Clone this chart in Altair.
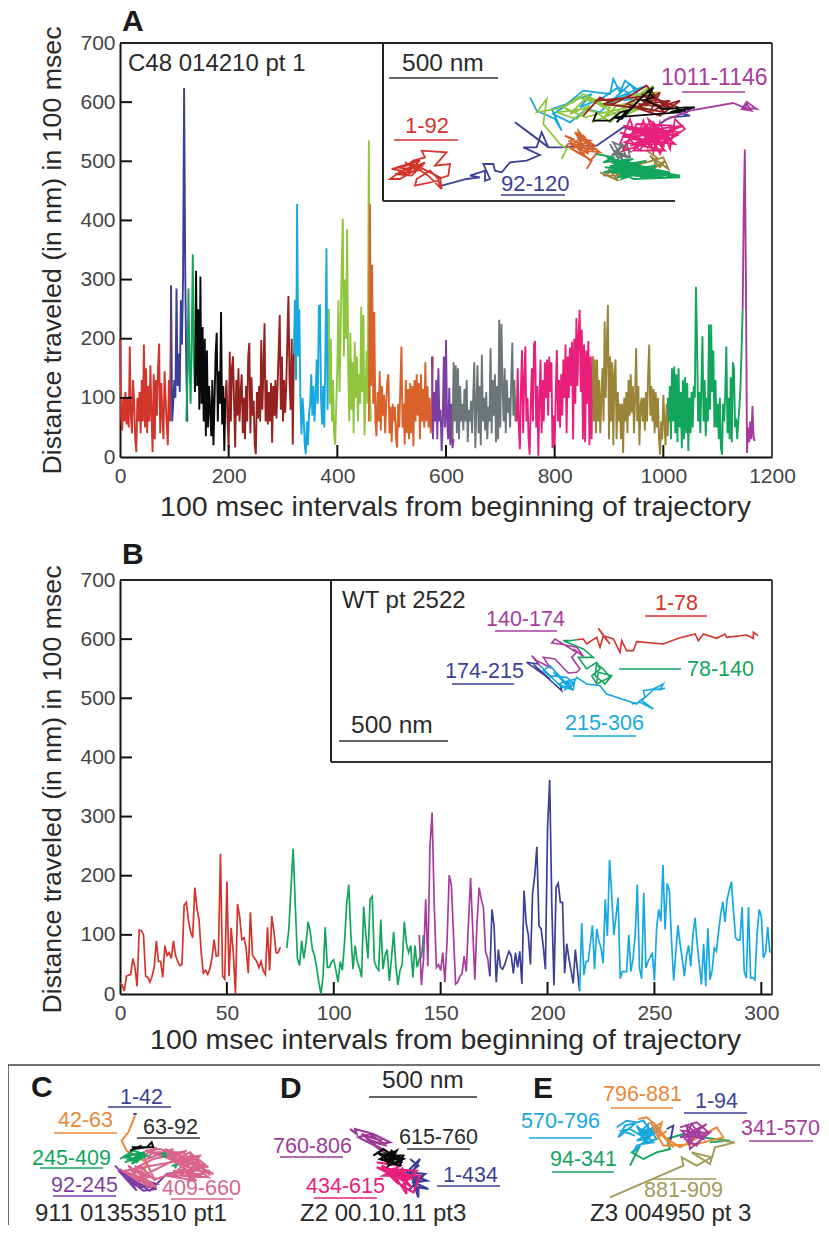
import altair as alt
import pandas as pd

FONT = "Liberation Sans"
INK = "#2a2a2a"
RED, NAVY, GREEN, BLACK, DARKRED = "#d2352b", "#3c3f98", "#12a55c", "#0a0a0a", "#96221f"
CYAN, LIME, ORANGE, PURPLE, GRAY = "#17a8e0", "#8fc63d", "#d8622a", "#7d3fa3", "#6c7578"
PINK, OLIVE, MAGENTA = "#e8207c", "#9a8438", "#a83c9e"
ROSE, AMBER, KHAKI = "#d9658f", "#e8883a", "#a39a5a"

# ---------- panel A series, sampled every 2 intervals ----------
A_RED = [200,70,45,100,60,110,55,100,50,187,70,40,130,95,30,8,100,60,110,40,130,60,190,50,150,40,120,60,155,70,8,140,30,130,70,150,192,40,125,70,30,145,100,55,20,130,60,290]
A_NAVY = [290,60,90,130,100,285,120,175,110,265,190,300,624,320,150,60]
A_GREEN1 = [60,130,285,150,90,200,343,160,110]
A_BLACK = [110,315,120,250,80,305,90,220,60,200,35,180,50,120,80,35,130,20,95,175,210,60,145,90,245,55,120,10,100]
A_DARKRED = [100,130,60,16,178,60,150,170,90,16,130,70,150,60,110,140,40,100,30,120,60,170,193,40,135,70,95,20,5,110,65,120,60,198,80,150,226,60,130,55,110,60,125,24,120,70,130,65,120,180,240,80,170,60,130,75,120,200,272,130,80,200,21,175]
A_CYAN = [175,266,130,428,170,250,100,38,100,70,20,5,60,20,75,90,140,70,120,60,100,165,90,255,256,100,55,120,50,175,353,80,250]
A_LIME = [250,90,200,60,130,40,21,90,150,265,110,210,320,403,170,300,200,385,150,60,210,80,160,40,195,100,170,60,140,90,254,110,240,37,100,180,90,535,110,60]
A_ORANGE = [60,428,120,325,90,245,60,35,110,60,145,45,120,70,105,40,90,130,140,40,85,25,90,60,85,30,16,90,50,120,187,50,90,21,130,40,115,30,125,40,120,18,130,60,140,70,125,30,140,60,115,50,160,60,120,50,100,40,80,170]
A_PURPLE = [170,30,110,60,130,30,150,60,80,10,60,170,50,198,60,30,117,20,90,15,30]
A_GRAY = [30,160,60,155,40,150,30,120,60,90,45,115,60,130,25,80,60,95,40,100,160,15,90,155,40,120,20,173,60,100,45,110,30,85,60,184,40,130,70,140,25,120,30,232,50,225,120,60,150,40,130,75,100,50,125,193,70,130,60]
A_PINK = [60,150,50,13,120,181,40,130,187,60,100,30,4,90,150,60,190,196,50,120,2,100,165,40,130,60,160,100,165,70,170,110,160,15,70,20,110,181,60,130,50,140,70,165,100,190,40,170,100,185,120,195,30,200,90,235,120,205,249,110,215,30,190,25,180,90,196,20,170,30,170]
A_OLIVE = [170,60,165,40,165,60,130,40,100,150,60,229,100,190,257,30,170,60,160,20,140,165,30,110,60,90,30,90,7,100,60,110,40,130,70,140,75,120,40,100,184,60,120,20,85,100,60,100,45,110,60,140,190,70,120,60,115,40,110,50,100,30,4,60,30,105,60,20,90,35,100]
A_GREEN2 = [100,60,120,30,150,60,153,40,140,25,150,50,110,15,130,30,135,40,125,10,100,40,110,50,120,100,288,200,60,110,40,120,204,60,130,35,100,60,224,80,224,110,180,50,130,50,90,30,100,15,4,90,60,110,187,40,100,30,135,25,160,150,50,65,30,60,85,120,180,249]
A_MAGENTA = [249,420,520,300,7,50,25,60,30,86,35,27]

A_STARTS = [0, 94, 122, 138, 194, 320, 384, 458, 574, 612, 730, 870, 1008, 1146]
A_VALUES = [A_RED, A_NAVY, A_GREEN1, A_BLACK, A_DARKRED, A_CYAN, A_LIME, A_ORANGE,
            A_PURPLE, A_GRAY, A_PINK, A_OLIVE, A_GREEN2, A_MAGENTA]
A_COLORS = [RED, NAVY, GREEN, BLACK, DARKRED, CYAN, LIME, ORANGE, PURPLE, GRAY, PINK, OLIVE, GREEN, MAGENTA]

# ---------- panel B series, one value per interval ----------
B_RED = [19,15,5,30,32,33,60,45,13,108,107,100,30,28,20,30,45,90,55,55,28,82,65,70,60,90,65,55,48,50,150,155,125,105,95,180,145,125,70,35,40,33,42,60,92,64,65,237,30,25,190,30,112,70,0,152,130,92,95,78,35,138,65,60,55,45,55,40,33,113,40,132,106,70,70,79]
B_GREEN = [78,110,180,246,150,60,48,90,60,85,122,105,75,65,45,20,0,30,113,45,45,55,58,40,20,55,40,85,150,185,100,42,82,55,45,28,148,100,60,160,165,55,45,40,126,42,65,75,22,60,105,50,15,40,50,122,85,70,82,28,82,45,60,62,100]
B_MAGENTA = [100,15,60,160,47,250,307,150,45,50,40,70,20,90,201,185,100,17,20,30,34,64,38,120,196,110,24,120,180,160,146,72,60,30]
B_NAVY = [30,143,115,20,75,45,42,50,62,72,65,35,70,45,72,17,175,120,100,50,170,200,249,115,110,80,42,280,362,150,15,180,187,155,155,35,85,60,40,18,75,40,5]
B_CYAN = [5,120,32,55,55,85,116,42,110,90,78,52,160,98,227,170,100,130,163,26,38,38,38,100,38,60,100,185,44,26,171,44,55,62,70,23,110,143,123,218,109,187,174,90,23,70,116,85,60,30,65,82,47,100,129,85,50,16,85,13,111,24,40,78,72,105,135,156,122,160,175,190,140,95,91,91,147,38,27,147,27,28,24,100,143,132,61,70,113,70]
B_STARTS = [0, 78, 140, 173, 215]
B_VALUES = [B_RED, B_GREEN, B_MAGENTA, B_NAVY, B_CYAN]
B_COLORS = [RED, GREEN, MAGENTA, NAVY, CYAN]

# ---------- insets: tracks in figure units ----------
TA_RED = [(215,480),(210,445),(180,430),(150,415),(125,430),(90,450),(60,450),(95,425),(65,420),(110,410),(130,395),(165,385),(155,365),(230,370),(195,410),(240,405),(235,440),(205,450),(180,425),(140,450),(135,470),(205,455),(215,480),(175,440),(120,405),(160,410),(120,420),(80,415),(150,395),(100,440),(130,415),(85,430),(145,405),(110,425),(165,400),(125,440),(75,435),(140,425),(105,400),(155,425)]
TA_NAVY = [(215,470),(290,450),(330,445),(300,440),(345,425),(345,455),(360,450),(340,405),(370,405),(375,425),(395,430),(420,400),(470,395),(510,378),(460,355),(500,355),(515,310),(535,355),(490,320),(435,280),(535,355),(575,355),(640,350),(680,350),(760,295),(830,310),(900,265),(960,260),(925,250)]
TA_CYAN = [(480,205),(500,245),(555,270),(575,305),(545,240),(590,225),(640,185),(680,190),(720,195),(730,150),(750,190),(765,155),(800,180),(830,170),(730,210),(690,250),(650,240),(600,280),(550,255),(610,215),(665,195),(630,235),(700,205),(745,175),(780,195),(715,225),(780,165),(810,205),(760,215)]
TA_LIME = [(575,390),(590,360),(570,345),(520,285),(530,210),(500,250),(560,240),(610,220),(640,195),(680,215),(720,235),(700,270),(740,230),(790,220),(850,170),(810,240),(760,245),(720,280),(680,250),(640,240),(560,250),(620,270),(660,230),(600,255),(650,205),(700,235),(780,200),(860,190),(830,230),(750,265),(690,225),(625,205),(580,235),(645,265),(705,250),(775,235),(835,175),(740,250),(665,280)]
TA_ORANGE = [(650,420),(665,395),(650,385),(620,370),(590,350),(610,330),(585,320),(630,345),(625,305),(655,345),(690,370),(640,365),(600,345),(650,350),(680,375),(660,395),(610,345),(640,320),(670,360),(625,355),(595,335),(655,375),(615,310),(675,350),(635,375),(605,360),(660,335),(630,330),(685,365)]
TA_DARKRED = [(640,260),(690,205),(730,225),(780,200),(830,170),(880,230),(930,215),(870,260),(810,240),(840,195),(910,240),(800,210),(770,225),(850,245),(900,215),(820,225),(870,190),(840,250),(795,235),(860,210),(925,235),(815,195),(885,250),(830,240),(700,225),(745,210),(675,215),(850,200),(895,235),(805,225)]
TA_BLACK = [(680,250),(670,275),(720,275),(750,250),(770,245),(740,280),(760,260),(820,200),(850,175),(830,215),(880,240),(950,235),(975,235),(900,250),(930,240),(950,250),(965,235),(925,250),(730,265),(755,270),(835,185),(850,205),(815,215)]
TA_PINK = [(750,345),(780,270),(800,330),(820,275),(850,370),(870,280),(900,360),(915,270),(945,300),(890,340),(850,280),(810,365),(770,320),(840,305),(920,320),(860,345),(790,300),(880,300),(840,340),(760,365),(800,285),(905,290),(870,375),(830,290),(880,350),(750,310),(820,340),(940,290),(860,300),(795,350),(900,325),(850,335),(785,330),(915,345),(835,270),(860,360),(765,340),(825,315),(885,325),(805,310),(870,330),(780,350),(845,320),(925,295),(815,355),(895,310),(755,325),(855,290),(835,355),(910,305),(775,300),(865,315),(800,345),(930,310),(820,295),(885,365),(790,365),(850,305),(760,290),(905,335)]
TA_GRAY = [(720,345),(745,390),(770,340),(780,385),(735,365),(760,395),(730,340),(775,360),(725,380),(755,350),(740,375),(770,385),(750,340),(785,370)]
TA_OLIVE = [(690,430),(745,455),(715,420),(750,440),(700,440),(730,425),(830,400),(880,385),(895,420),(840,380),(870,415),(885,395),(850,420),(860,385),(830,365),(875,360)]
TA_GREEN = [(680,375),(730,385),(700,400),(790,390),(720,415),(830,395),(700,430),(860,410),(740,445),(880,430),(760,420),(930,445),(790,450),(720,410),(850,440),(770,395),(815,445),(900,430),(745,400),(870,445),(725,430),(835,415),(770,445),(800,405),(740,425),(890,440),(780,430),(850,420),(710,385),(820,430),(760,410),(930,440),(705,415),(795,420),(875,435),(735,395),(840,445),(750,435),(810,415),(905,445),(765,405),(855,430),(785,440),(725,400),(825,450),(770,425),(880,445),(745,415),(800,435),(860,445),(715,395),(830,425),(755,450),(790,410),(895,435)]
TA_MAGENTA = [(880,275),(960,245),(1090,222),(1120,235),(1160,240),(1130,218),(1115,240),(1145,245),(1130,225),(1125,240)]
INSET_A = [(TA_NAVY,NAVY),(TA_RED,RED),(TA_CYAN,CYAN),(TA_LIME,LIME),(TA_ORANGE,ORANGE),(TA_GRAY,GRAY),(TA_OLIVE,OLIVE),
           (TA_GREEN,GREEN),(TA_PINK,PINK),(TA_DARKRED,DARKRED),(TA_BLACK,BLACK),(TA_MAGENTA,MAGENTA)]

TB_RED = [(1315,200),(1300,190),(1300,208),(1280,198),(1220,205),(1215,195),(1190,208),(1150,195),(1135,215),(1125,195),(1075,208),(1030,225),(950,218),(940,245),(920,245),(905,215),(900,250),(880,210),(850,200),(835,178),(870,225),(850,200),(840,235),(830,205),(800,225),(790,210),(770,212)]
TB_GREEN = [(770,212),(750,215),(730,215),(790,240),(820,265),(775,265),(800,300),(830,280),(840,300),(815,320),(830,345),(870,325),(850,300),(830,285),(825,320),(855,345),(875,320),(835,310),(830,340)]
TB_MAGENTA = [(760,240),(790,262),(770,235),(720,225),(695,222),(705,210),(770,250),(755,265),(780,300),(770,310),(745,312),(705,270),(670,265),(690,295),(650,275),(635,260),(660,290)]
TB_NAVY = [(655,285),(620,280),(690,330),(650,295),(640,285),(670,315),(725,365),(720,345)]
TB_CYAN = [(660,290),(700,330),(670,305),(690,290),(740,345),(700,310),(760,365),(730,340),(765,330),(760,360),(725,355),(690,320),(740,325),(765,345),(725,335),(755,350),(735,362),(745,335),(715,345),(750,360),(770,325),(800,345),(840,350),(860,375),(935,400),(950,405),(960,395),(975,385),(970,365),(1000,360),(1030,345),(1020,362),(1035,358),(1000,362),(965,395),(1000,420),(960,400),(935,405)]
INSET_B = [(TB_RED,RED),(TB_GREEN,GREEN),(TB_MAGENTA,MAGENTA),(TB_NAVY,NAVY),(TB_CYAN,CYAN)]

TC_PURPLE = [(345,320),(390,365),(430,395),(470,390),(395,370),(440,385),(380,350),(410,395),(360,340),(470,375),(420,385),(385,360),(450,395),(500,345),(530,340)]
TC_ROSE = [(360,330),(420,370),(385,320),(470,385),(400,345),(440,380),(420,320),(465,365),(430,290),(470,265),(440,300),(520,270),(480,295),(560,275),(510,300),(590,300),(530,315),(640,345),(555,300),(625,355),(540,350),(600,310),(565,365),(630,335),(520,335),(590,365),(500,350),(610,325),(540,290),(580,345),(480,280),(570,320),(450,280),(530,285),(460,300),(400,330),(445,355),(390,350),(450,375),(420,345),(470,360),(550,330),(600,350),(520,350),(575,285),(625,325),(495,270),(545,310),(505,285),(585,335),(465,280),(550,280),(610,345),(560,345),(600,290),(535,300),(575,360),(515,275),(590,320),(435,275),(480,270),(565,300),(375,335),(430,365),(405,320),(455,385),(415,355),(395,335),(440,345),(570,280),(630,350)]
TC_GREEN = [(360,300),(400,275),(430,285),(410,310),(385,290),(435,280),(375,310),(420,290),(395,315),(440,290),(400,285),(370,295),(415,300),(390,305),(430,295),(380,300)]
TC_DOT1 = [(482,285),(495,282),(498,292),(485,292)]
TC_DOT2 = [(515,320),(530,318),(525,328)]
TC_ORANGE = [(405,170),(385,220),(365,245),(380,275),(440,310),(430,350)]
TC_NAVY = [(400,165),(410,165)]
TC_BLACK = [(390,275),(425,260),(400,270),(440,265),(455,250),(460,265),(420,265),(395,265)]
INSET_C = [(TC_ORANGE,AMBER),(TC_PURPLE,PURPLE),(TC_ROSE,ROSE),(TC_GREEN,GREEN),(TC_DOT1,GREEN),(TC_DOT2,GREEN),(TC_NAVY,NAVY),(TC_BLACK,BLACK)]

TD_NAVY = [(420,300),(445,320),(420,340),(465,345),(430,370),(475,390),(445,385),(445,415),(430,370),(470,365),(410,340),(450,300),(430,335),(440,395),(425,355),(455,355),(415,395)]
TD_PINK = [(320,310),(390,320),(340,350),(450,350),(430,400),(380,370),(350,340),(410,370),(320,325),(400,345),(410,405),(370,345),(430,360),(335,320),(395,380),(440,335),(360,330),(420,350),(345,335),(385,355),(425,385),(375,330),(405,335),(360,350),(415,360),(395,325)]
TD_PURPLE = [(240,210),(260,225),(255,210),(310,225),(360,250),(330,255),(290,240),(350,260),(300,225),(265,235),(345,275),(300,250),(355,290),(275,225),(335,245),(285,230),(320,265)]
TD_BLACK = [(310,290),(340,270),(370,290),(400,290),(390,320),(360,310),(330,300),(380,275),(355,320),(400,300),(350,285),(375,315),(320,280),(390,305),(365,275),(345,300),(385,295),(360,285),(375,300),(350,310),(395,310)]
INSET_D = [(TD_NAVY,NAVY),(TD_PINK,PINK),(TD_PURPLE,"#9c3c96"),(TD_BLACK,BLACK)]

TE_GREEN = [(360,320),(390,260),(365,280),(400,300),(440,280),(480,270),(470,240),(520,225),(610,240),(660,245),(600,250)]
TE_NAVY = [(470,210),(490,200),(480,250)]
TE_CYAN = [(320,205),(350,185),(380,190),(325,235),(345,200),(400,185),(440,240),(380,260),(370,280),(420,230),(390,210),(440,220),(400,240),(380,200),(430,250),(395,255),(450,205),(385,225),(415,195),(405,255),(435,200),(395,230),(425,215),(380,245),(410,240),(360,210),(335,215),(375,230)]
TE_ORANGE = [(385,180),(410,175),(440,200),(470,240),(490,265),(420,190),(450,225),(510,265),(620,205),(640,235),(560,255),(460,260),(430,210),(455,190),(445,235),(470,215)]
TE_PURPLE = [(510,205),(560,190),(590,215),(560,260),(525,240),(545,195),(580,240),(520,225),(600,220),(540,270),(530,200),(570,230),(510,235),(590,195),(550,225),(530,250),(570,205),(545,245),(515,215),(585,225),(555,210)]
TE_OLIVE = [(300,415),(520,320),(515,295),(560,320),(605,295),(545,280),(600,315),(615,265),(675,250),(630,245)]
INSET_E = [(TE_GREEN,GREEN),(TE_NAVY,NAVY),(TE_CYAN,CYAN),(TE_ORANGE,AMBER),(TE_OLIVE,KHAKI),(TE_PURPLE,MAGENTA)]

# ---------- text ----------
TXT_A = ["C48 014210 pt 1","500 nm","1-92","92-120","1011-1146"]
TXT_B = ["WT pt 2522","500 nm","140-174","1-78","174-215","78-140","215-306"]
TXT_C = ["1-42","42-63","63-92","245-409","92-245","409-660","911 01353510 pt1"]
TXT_D = ["500 nm","760-806","615-760","1-434","434-615","Z2 00.10.11 pt3"]
TXT_E = ["796-881","1-94","570-796","341-570","94-341","881-909","Z3 004950 pt 3"]
XT_A = "100 msec intervals from beginning of trajectory"
YT = "Distance traveled (in nm) in 100 msec"

# ---------- layout helpers (page coordinates) ----------
def sx(p, o=0, k=1):
    return alt.Scale(domain=[(p["l"]-o)*k, (p["r"]-o)*k], nice=False, zero=False)
def sy(p, o=0, k=1):
    return alt.Scale(domain=[(p["b"]-o)*k, (p["t"]-o)*k], nice=False, zero=False)

def tracks(p, items, ox, oy, w=1.5):
    rows = []
    for n, (pts, col) in enumerate(items):
        for i, (x, y) in enumerate(pts):
            rows.append(dict(x=x, y=y, c=col, s=n, i=i))
    return alt.Chart(pd.DataFrame(rows)).mark_line(strokeWidth=w, strokeJoin="miter").encode(
        x=alt.X("x:Q", scale=sx(p, ox, 3), axis=None),
        y=alt.Y("y:Q", scale=sy(p, oy, 3), axis=None),
        color=alt.Color("c:N", scale=None), detail="s:N", order="i:Q")

def labels(p, texts, places, size=21.5):
    rows = [dict(t=t, x=q[0], y=q[1], c=q[2], z=q[3] if len(q) > 3 else size) for t, q in zip(texts, places)]
    return alt.Chart(pd.DataFrame(rows)).mark_text(align="left", baseline="alphabetic", font=FONT).encode(
        x=alt.X("x:Q", scale=sx(p), axis=None), y=alt.Y("y:Q", scale=sy(p), axis=None),
        text="t:N", color=alt.Color("c:N", scale=None), size=alt.Size("z:Q", scale=None))

def letter(p, t, x, y):
    return alt.Chart(pd.DataFrame([dict(t=t, x=x, y=y)])).mark_text(
        align="left", baseline="alphabetic", font=FONT, fontSize=30, fontWeight="bold", color="#1a1a1a").encode(
        x=alt.X("x:Q", scale=sx(p), axis=None), y=alt.Y("y:Q", scale=sy(p), axis=None), text="t:N")

def rules(p, lines, w=1.4):
    rows = [dict(x=a, x2=b, y=c, y2=d, col=e) for a, b, c, d, e in lines]
    return alt.Chart(pd.DataFrame(rows)).mark_rule(strokeWidth=w).encode(
        x=alt.X("x:Q", scale=sx(p), axis=None), x2="x2:Q",
        y=alt.Y("y:Q", scale=sy(p), axis=None), y2="y2:Q",
        color=alt.Color("col:N", scale=None))

def main(starts, values, colors, step, xs, ys, xtvals, titleX, titleY, ytitleY, w):
    rows = []
    for n, (st, vals, col) in enumerate(zip(starts, values, colors)):
        for i, v in enumerate(vals):
            rows.append(dict(t=st+i*step, v=v, c=col, s=n, i=i))
    return alt.Chart(pd.DataFrame(rows)).mark_line(strokeWidth=w, strokeJoin="miter").encode(
        x=alt.X("t:Q", scale=xs, axis=alt.Axis(
            values=xtvals, format="d", ticks=False, grid=False, domainColor="#111", domainWidth=2,
            labelFont=FONT, labelFontSize=21, labelColor="#444", labelPadding=8, labelFlush=False,
            title=XT_A, titleFont=FONT, titleFontSize=28.5, titleFontWeight="normal", titleColor=INK,
            titleX=titleX, titleY=titleY, titleBaseline="alphabetic", titleAlign="center")),
        y=alt.Y("v:Q", scale=ys, axis=alt.Axis(
            values=[0,100,200,300,400,500,600,700], ticks=False, grid=False, domainColor="#111", domainWidth=2,
            labelFont=FONT, labelFontSize=21, labelColor="#444", labelPadding=5, labelFlush=False,
            title=YT, titleFont=FONT, titleFontSize=26.7, titleFontWeight="normal", titleColor=INK,
            titleX=-60, titleY=ytitleY, titleBaseline="alphabetic", titleAlign="center")),
        color=alt.Color("c:N", scale=None), detail="s:N", order="i:Q")

def ticks(xs, ys, xtv, h):
    tx = alt.Chart(pd.DataFrame({"t": xtv})).mark_rule(strokeWidth=2, color="#111").encode(
        x=alt.X("t:Q", scale=xs, axis=None), y=alt.value(h), y2=alt.value(h-12))
    ty = alt.Chart(pd.DataFrame({"v": [100,200,300,400,500,600]})).mark_rule(strokeWidth=2, color="#111").encode(
        y=alt.Y("v:Q", scale=ys, axis=None), x=alt.value(0), x2=alt.value(12))
    return [tx, ty]

def indep(*layers, **props):
    return alt.layer(*layers).resolve_scale(x="independent", y="independent", color="independent").properties(**props)

W, H, GAP = 652, 414, 123
YS = alt.Scale(domain=[0,700], nice=False, zero=False)
BIG = 24.5

# Panel A
PA = dict(l=120, r=772, b=458, t=44)
XA = alt.Scale(domain=[0,1200], nice=False, zero=False)
XTA = [200,400,600,800,1000]
a = indep(
    main(A_STARTS, A_VALUES, A_COLORS, 2, XA, YS, [0,200,400,600,800,1000,1200], 335, 58, 207, 1.9),
    *ticks(XA, YS, XTA, H),
    tracks(PA, INSET_A, 370, 30, w=1.8),
    rules(PA, [(120,772,44,44,"#222"),(772,772,44,458,"#444"),(383,383,44,202,"#222"),(383,675,202,202,"#333")], w=2),
    rules(PA, [(389,498,79,79,"#333"),(394,458,141,141,RED),(501,565,196,196,NAVY),(682,745,93,93,MAGENTA)]),
    labels(PA, TXT_A, [(128,72,INK,24),(402,72,INK,BIG),(405,134,RED,22),(501,192,NAVY,22),(661,86,MAGENTA,23)]),
    letter(PA, "A", 122, 32),
    width=W, height=H)

# Panel B
PB = dict(l=120, r=772, b=995, t=581)
XB = alt.Scale(domain=[0,305], nice=False, zero=False)
XTB = [50,100,150,200,250,300]
b = indep(
    main(B_STARTS, B_VALUES, B_COLORS, 1, XB, YS, [0,50,100,150,200,250,300], 325, 54, 209, 1.7),
    *ticks(XB, YS, XTB, H),
    tracks(PB, INSET_B, 320, 570, w=1.6),
    rules(PB, [(120,772,581,581,"#222"),(772,772,581,995,"#444"),(331,331,581,763,"#222"),(331,772,763,763,"#333")], w=2),
    rules(PB, [(339,448,742,742,"#333"),(495,557,632,632,MAGENTA),(645,707,617,617,RED),(452,514,685,685,NAVY),(619,681,670,670,GREEN),(573,636,737,737,CYAN)]),
    labels(PB, TXT_B, [(342,609,INK,24),(351,734,INK,BIG),(486,627,MAGENTA),(655,611,RED),(445,679,NAVY),(687,677,GREEN),(565,731,CYAN)]),
    letter(PB, "B", 122, 565),
    width=W, height=H)

# Bottom strip
PC = dict(l=120, r=820, b=1226, t=1118)
CAP = 1222
c = indep(
    tracks(PC, INSET_C, 0, 1060, w=2),
    tracks(PC, INSET_D, 270, 1060, w=2.2),
    tracks(PC, INSET_E, 510, 1060, w=1.9),
    rules(PC, [(8,820,1066,1066,"#444"),(8,8,1066,1226,"#444")], w=1.6),
    rules(PC, [(108,171,1108,1108,NAVY),(54,117,1134,1134,AMBER),(137,200,1139,1139,"#333"),(40,103,1169,1169,GREEN),(53,116,1197,1197,PURPLE),(171,233,1200,1200,ROSE),
               (369,477,1098,1098,"#333"),(280,343,1158,1158,"#9c3c96"),(407,470,1150,1150,"#333"),(437,500,1187,1187,NAVY),(314,377,1199,1199,PINK),
               (611,673,1109,1109,AMBER),(684,747,1114,1114,NAVY),(529,592,1139,1139,CYAN),(749,813,1142,1142,MAGENTA),(552,614,1173,1173,GREEN),(652,716,1180,1180,KHAKI)]),
    labels(PC, TXT_C, [(120,1105,NAVY),(58,1128,AMBER),(143,1135,INK),(32,1166,GREEN),(51,1193,PURPLE),(162,1196,ROSE),(35,CAP,INK,BIG-0.5)]),
    labels(PC, TXT_D, [(382,1089,INK,BIG),(273,1154,"#9c3c96"),(399,1145,INK),(443,1183,NAVY),(306,1194,PINK),(300,CAP,INK,BIG-0.5)]),
    labels(PC, TXT_E, [(603,1102,AMBER),(695,1109,NAVY),(521,1129,CYAN),(741,1136,MAGENTA),(550,1167,GREEN),(644,1198,KHAKI),(590,CAP,INK,BIG-0.5)]),
    letter(PC, "C", 31, 1098), letter(PC, "D", 280, 1099), letter(PC, "E", 533, 1099),
    width=700, height=108)

chart = alt.vconcat(a, b, c, spacing=GAP, bounds="flush", background="white",
                    padding=alt.Padding(top=-1, left=-1, right=-1, bottom=0)).configure_view(stroke=None)
chart.save("out.html", embed_options={"renderer": "svg", "actions": False})
